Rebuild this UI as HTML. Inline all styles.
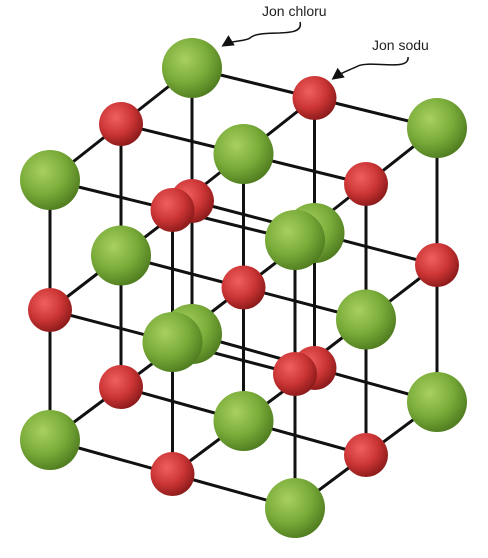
<!DOCTYPE html>
<html><head><meta charset="utf-8"><style>
html,body{margin:0;padding:0;background:#fff;}
svg{display:block;}
text{font-family:"Liberation Sans",sans-serif;font-size:14px;fill:#222;}
</style></head><body>
<svg id="c" width="488" height="558" viewBox="0 0 488 558">
<defs>
<radialGradient id="gG" cx="0.38" cy="0.35" r="0.7">
<stop offset="0" stop-color="#a8d060"/><stop offset="0.55" stop-color="#7aac3a"/><stop offset="1" stop-color="#4d7a1e"/>
</radialGradient>
<radialGradient id="gR" cx="0.38" cy="0.35" r="0.7">
<stop offset="0" stop-color="#f06060"/><stop offset="0.55" stop-color="#cc3535"/><stop offset="1" stop-color="#871818"/>
</radialGradient>
<marker id="ah" markerWidth="8" markerHeight="8" refX="6" refY="4" orient="auto"><path d="M0,0 L8,4 L0,8 Z" fill="#111"/></marker>
</defs>
<g id="lines"></g>
<g id="lat"></g>
<text x="262" y="16">Jon chloru</text>
<path d="M300,22 C305,40 260,28 250,38 C244,42 232,40 224,45" fill="none" stroke="#111" stroke-width="1.5" marker-end="url(#ah)"/>
<text x="372" y="50">Jon sodu</text>
<path d="M408,57 C410,72 370,60 358,66 C350,70 342,72 334,78" fill="none" stroke="#111" stroke-width="1.5" marker-end="url(#ah)"/>
</svg>
<script>
const sizeI = [0,1,2];
const sizeJ = [0,1,2];
const sizeK = [0,1,2];
const NS="http://www.w3.org/2000/svg";
const g=document.getElementById('lat');
const gl=document.getElementById('lines');
function pos(i,j,k){
  const cy=130+2*i+1.5*j;
  return [50+122.5*i+71*j, 180+30*i-56*j+cy*k];
}
function line(a,b){
  const l=document.createElementNS(NS,'line');
  l.setAttribute('x1',a[0]);l.setAttribute('y1',a[1]);l.setAttribute('x2',b[0]);l.setAttribute('y2',b[1]);
  l.setAttribute('stroke','#111');l.setAttribute('stroke-width','3');
  
  
  gl.appendChild(l);
}
const n=sizeI.length;
for(const j of sizeJ)for(const i of sizeI)for(const k of sizeK){
  if(j<n-1) line(pos(i,j,k),pos(i,j+1,k));
  if(i<n-1) line(pos(i,j,k),pos(i+1,j,k));
  if(k<n-1) line(pos(i,j,k),pos(i,j,k+1));
}
for(let jj=sizeJ.length-1;jj>=0;jj--){
  const j=sizeJ[jj];
  for(const i of sizeI)for(const k of sizeK){
    const p=pos(i,j,k);const green=(i+j+k)%2===0;
    const c=document.createElementNS(NS,'circle');
    c.setAttribute('cx',p[0]);c.setAttribute('cy',p[1]);c.setAttribute('r',green?30:22);
    c.setAttribute('fill',green?'url(#gG)':'url(#gR)');
    
    
    g.appendChild(c);
  }
}
</script>
</body></html>
